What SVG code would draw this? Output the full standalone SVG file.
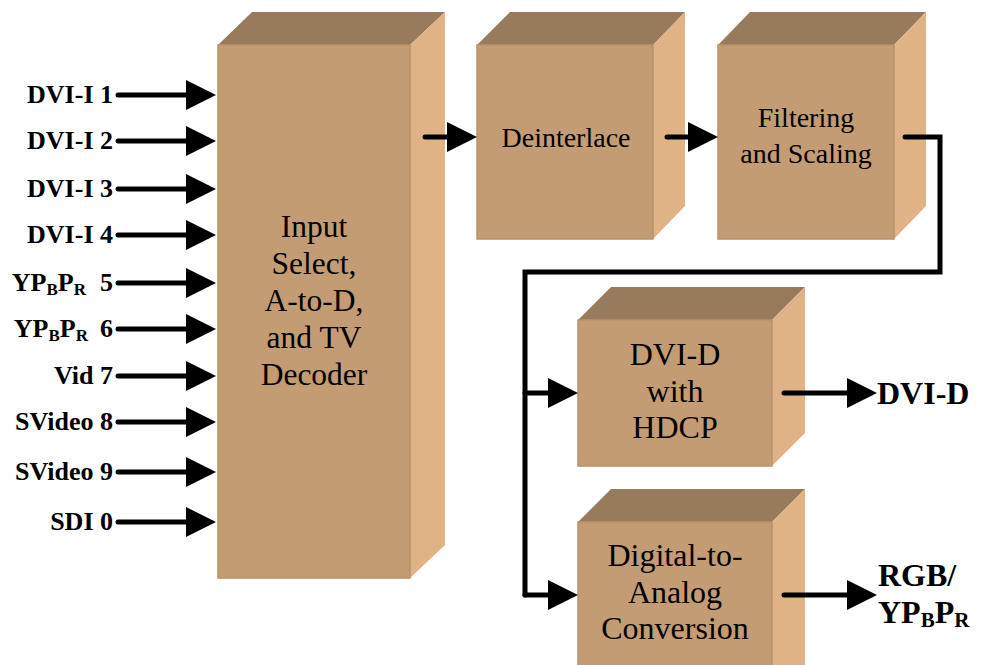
<svg xmlns="http://www.w3.org/2000/svg" width="992" height="665" viewBox="0 0 992 665">
<defs>
<style>
.top{fill:#987a5c}
.front{fill:#c49c74;stroke:#b9926b;stroke-width:1.5}
.side{fill:#e0b387}
.lbl{font-family:"Liberation Serif","Times New Roman",serif;font-weight:bold;font-size:26px;fill:#000}
.big{font-size:32px}
.sub{font-size:17px}
.bsub{font-size:21px}
.box{font-family:"Liberation Serif","Times New Roman",serif;font-size:28px;fill:#000;text-anchor:middle}
.box32{font-size:32px}
.box31{font-size:31.5px}
.w{fill:none;stroke:#000;stroke-width:5;stroke-linecap:round;stroke-linejoin:miter}
</style>
<marker id="ah" markerUnits="strokeWidth" markerWidth="6" markerHeight="6" refX="0" refY="3" orient="auto" overflow="visible">
<path d="M0,0 L6,3 L0,6 Z" fill="#000"/>
</marker>
</defs>
<rect width="992" height="665" fill="#fff"/>

<g id="input-box">
<polygon class="top" points="218,45 252,12 445,12 410,45"/>
<polygon class="side" points="410,45 445,12 445,545 410,578"/>
<rect class="front" x="218" y="45" width="192" height="533"/>
<text class="box box31" x="314" y="237">Input</text>
<text class="box box31" x="314" y="274">Select,</text>
<text class="box box31" x="314" y="311">A-to-D,</text>
<text class="box box31" x="314" y="348">and TV</text>
<text class="box box31" x="314" y="385">Decoder</text>
</g>

<g id="deinterlace">
<polygon class="top" points="477,45 510,12 685,12 653,45"/>
<polygon class="side" points="653,45 685,12 685,206 653,239"/>
<rect class="front" x="477" y="45" width="176" height="194"/>
<text class="box" x="566" y="147">Deinterlace</text>
</g>

<g id="filtering">
<polygon class="top" points="718,45 750,12 926,12 894,45"/>
<polygon class="side" points="894,45 926,12 926,206 894,239"/>
<rect class="front" x="718" y="45" width="176" height="194"/>
<text class="box" x="806" y="127">Filtering</text>
<text class="box" x="806" y="163">and Scaling</text>
</g>

<g id="dvid">
<polygon class="top" points="578,320 611,287 805,287 772,320"/>
<polygon class="side" points="772,320 805,287 805,433 772,466"/>
<rect class="front" x="578" y="320" width="194" height="146"/>
<text class="box box32" x="675" y="365">DVI-D</text>
<text class="box box32" x="675" y="402">with</text>
<text class="box box32" x="675" y="438">HDCP</text>
</g>

<g id="dac">
<polygon class="top" points="578,522 611,489 805,489 772,522"/>
<polygon class="side" points="772,522 805,489 805,667 772,700"/>
<rect class="front" x="578" y="522" width="194" height="180"/>
<text class="box box32" x="675" y="566">Digital-to-</text>
<text class="box box32" x="675" y="603">Analog</text>
<text class="box box32" x="675" y="639">Conversion</text>
</g>

<g id="input-labels">
<text class="lbl" x="113" y="103" text-anchor="end">DVI-I 1</text>
<text class="lbl" x="113" y="149" text-anchor="end">DVI-I 2</text>
<text class="lbl" x="113" y="197" text-anchor="end">DVI-I 3</text>
<text class="lbl" x="113" y="243" text-anchor="end">DVI-I 4</text>
<text class="lbl" x="86" y="291" text-anchor="end">YP<tspan class="sub" dy="4">B</tspan><tspan dy="-4">P</tspan><tspan class="sub" dy="4">R</tspan></text>
<text class="lbl" x="113" y="291" text-anchor="end">5</text>
<text class="lbl" x="88" y="337" text-anchor="end">YP<tspan class="sub" dy="4">B</tspan><tspan dy="-4">P</tspan><tspan class="sub" dy="4">R</tspan></text>
<text class="lbl" x="113" y="337" text-anchor="end">6</text>
<text class="lbl" x="113" y="384" text-anchor="end">Vid 7</text>
<text class="lbl" x="113" y="430" text-anchor="end">SVideo 8</text>
<text class="lbl" x="113" y="480" text-anchor="end">SVideo 9</text>
<text class="lbl" x="113" y="530" text-anchor="end">SDI 0</text>
</g>

<g id="output-labels">
<text class="lbl big" x="877" y="404">DVI-D</text>
<text class="lbl big" x="878" y="586">RGB/</text>
<text class="lbl big" x="878" y="623">YP<tspan class="bsub" dy="4">B</tspan><tspan dy="-4">P</tspan><tspan class="bsub" dy="4">R</tspan></text>
</g>

<g id="connectors">
<path class="w" marker-end="url(#ah)" d="M118,95 H186"/>
<path class="w" marker-end="url(#ah)" d="M118,141 H186"/>
<path class="w" marker-end="url(#ah)" d="M118,189 H186"/>
<path class="w" marker-end="url(#ah)" d="M118,235 H186"/>
<path class="w" marker-end="url(#ah)" d="M118,283 H186"/>
<path class="w" marker-end="url(#ah)" d="M118,329 H186"/>
<path class="w" marker-end="url(#ah)" d="M118,376 H186"/>
<path class="w" marker-end="url(#ah)" d="M118,422 H186"/>
<path class="w" marker-end="url(#ah)" d="M118,472 H186"/>
<path class="w" marker-end="url(#ah)" d="M118,522 H186"/>
<path class="w" marker-end="url(#ah)" d="M425,137 H447"/>
<path class="w" marker-end="url(#ah)" d="M667,137 H688"/>
<path class="w" d="M905,137 H940 V272 H525 V595"/>
<path class="w" marker-end="url(#ah)" d="M525,393 H548"/>
<path class="w" marker-end="url(#ah)" d="M525,595 H548"/>
<path class="w" marker-end="url(#ah)" d="M784,393 H847"/>
<path class="w" marker-end="url(#ah)" d="M784,595 H847"/>
</g>
</svg>
